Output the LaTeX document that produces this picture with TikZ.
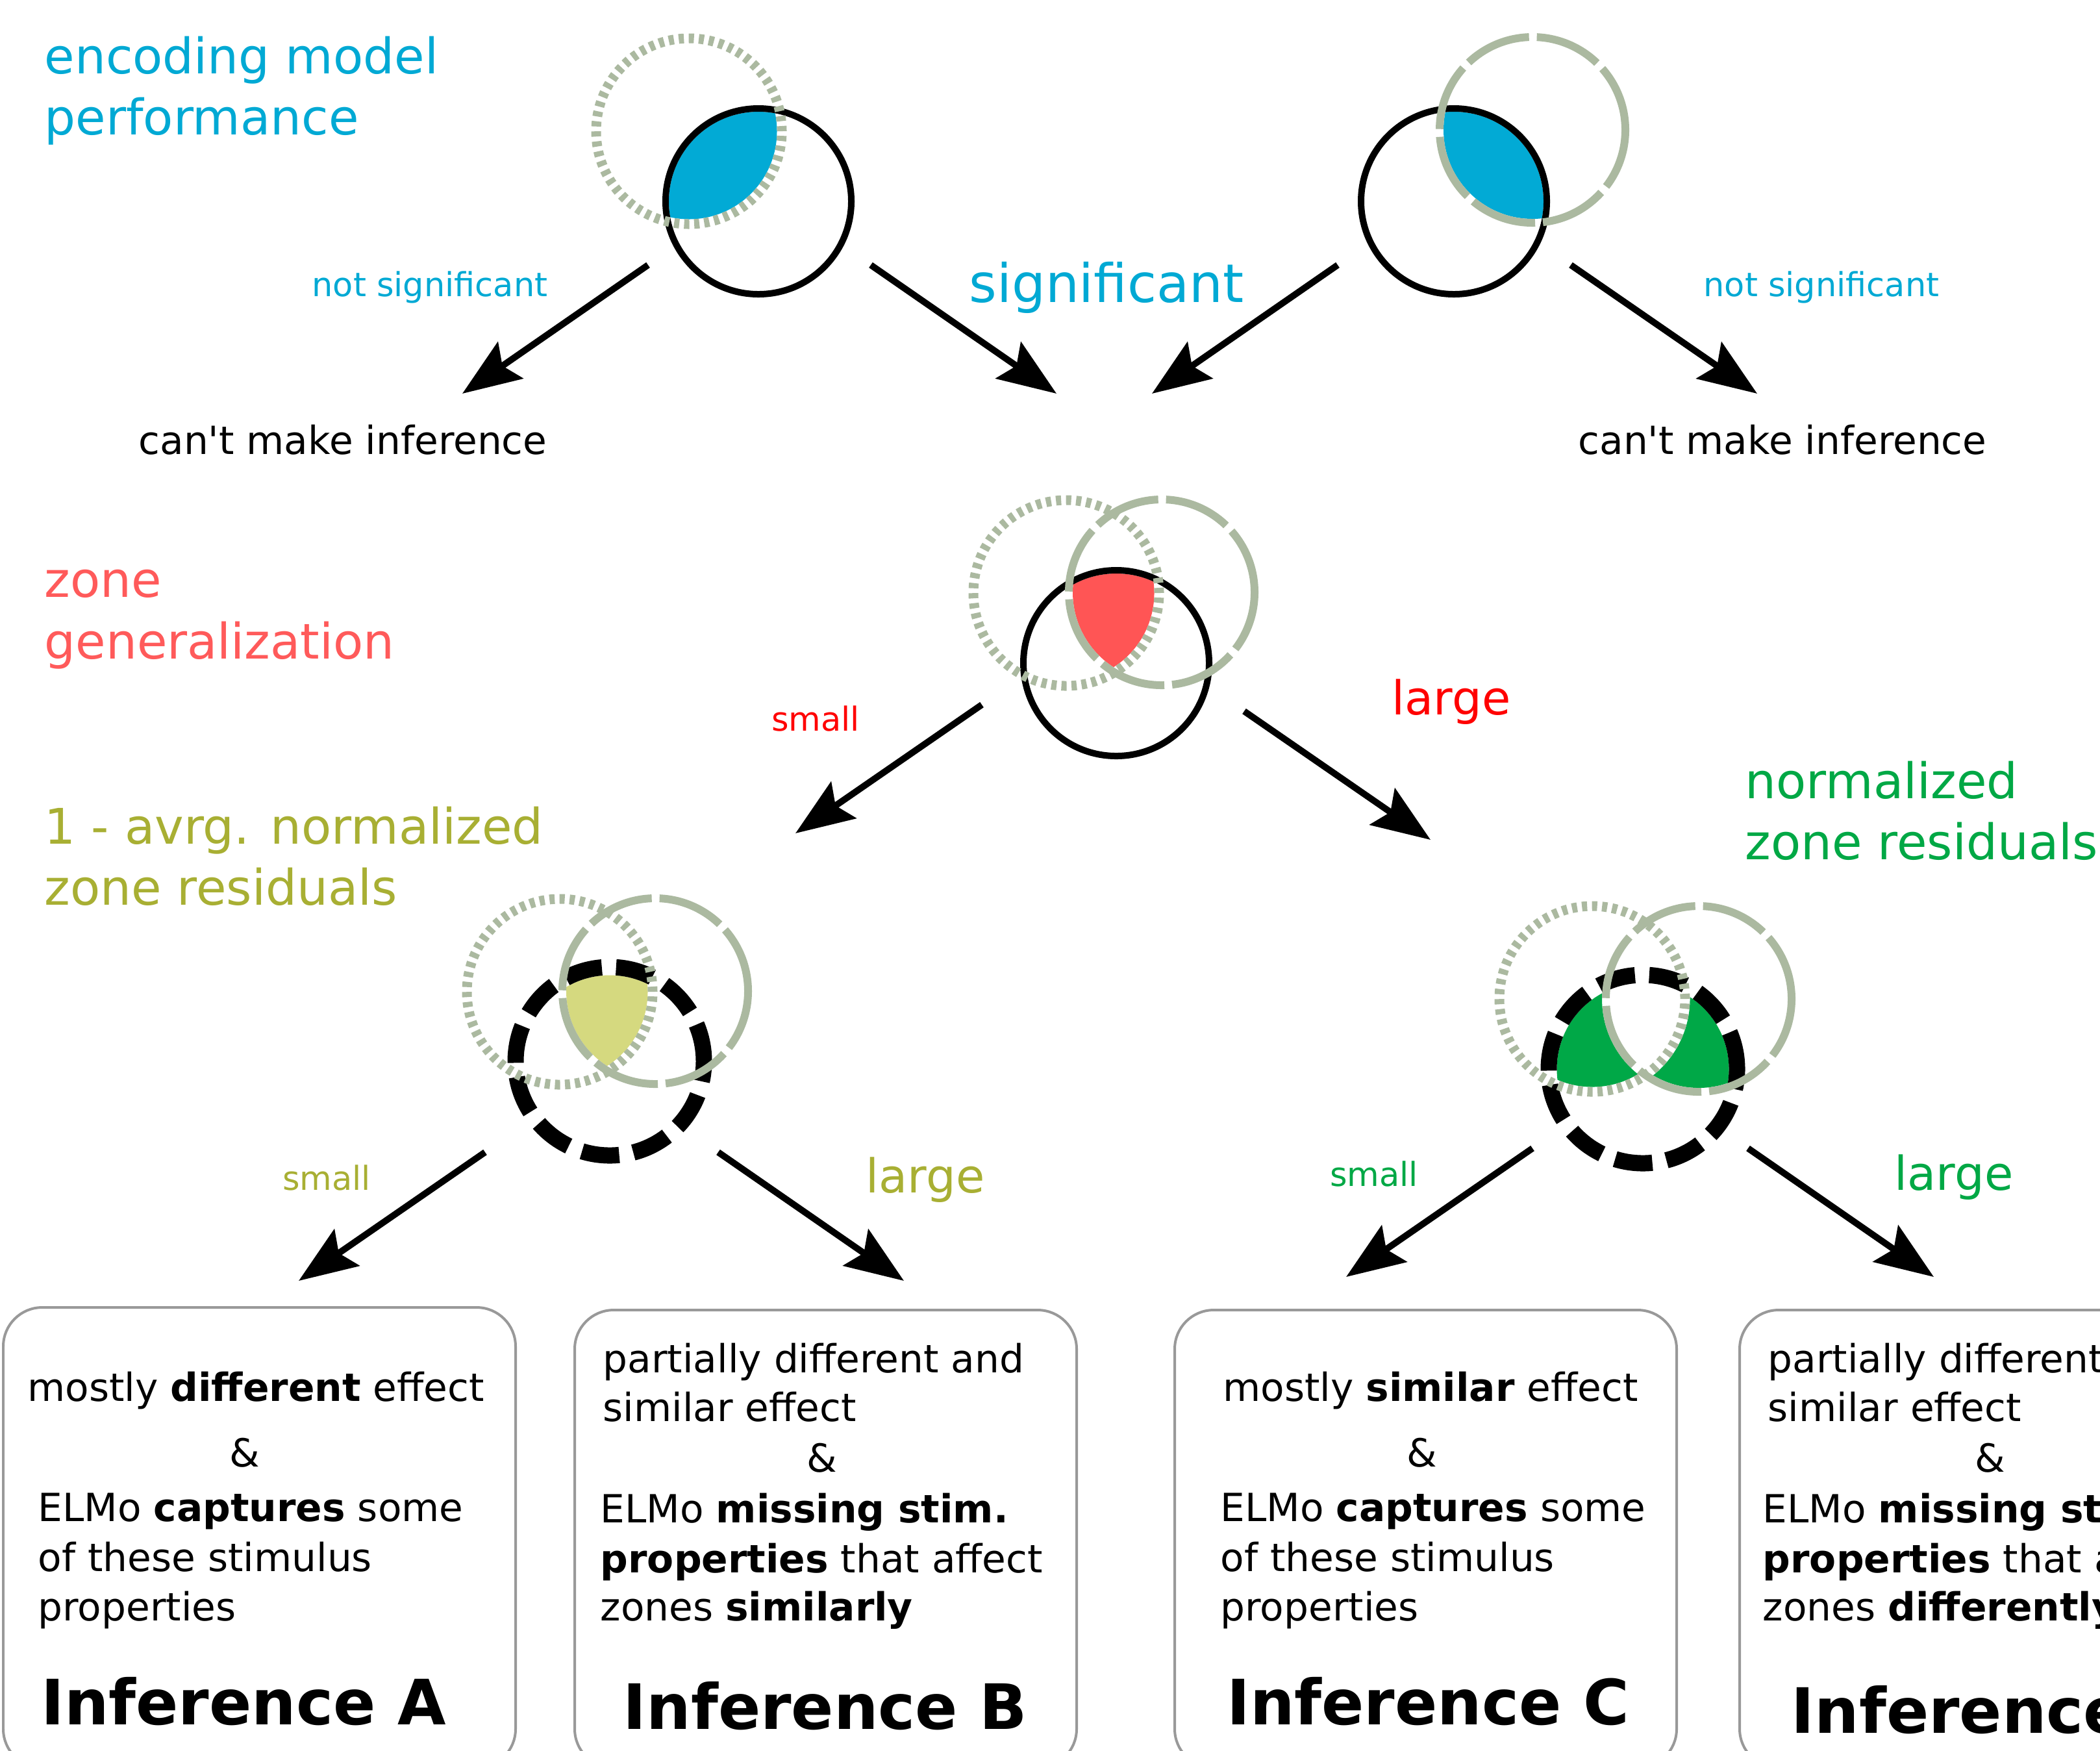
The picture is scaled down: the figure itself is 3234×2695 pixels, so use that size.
\documentclass[tikz,border=0pt]{standalone}
\usepackage{fontspec}
\setmainfont{DejaVu Sans}
\usetikzlibrary{arrows.meta}
\definecolor{cyanT}{HTML}{00A9D4}
\definecolor{cyanF}{HTML}{02AAD5}
\definecolor{salmonT}{HTML}{FF5A5A}
\definecolor{redF}{HTML}{FF5555}
\definecolor{oliveT}{HTML}{A8AF33}
\definecolor{yellowF}{HTML}{D5D97F}
\definecolor{greenT}{HTML}{00A845}
\definecolor{greenF}{HTML}{00A847}
\definecolor{greyC}{HTML}{ABB9A0}
\definecolor{boxgrey}{HTML}{999999}
\newcommand{\fsHead}{\fontsize{21.5pt}{26pt}\selectfont}
\newcommand{\fsSig}{\fontsize{23.3pt}{28pt}\selectfont}
\newcommand{\fsLrg}{\fontsize{20.5pt}{25pt}\selectfont}
\newcommand{\fsSml}{\fontsize{14.5pt}{17pt}\selectfont}
\newcommand{\fsBody}{\fontsize{17pt}{21pt}\selectfont}
\newcommand{\fsInf}{\fontsize{27.4pt}{33pt}\selectfont\bfseries}
\begin{document}
\begin{tikzpicture}[x=0.1mm,y=-0.1mm,
  blk/.style={draw=black,line width=1mm},
  blkdash/.style={draw=black,line width=2.5mm,dash pattern=on 5.8mm off 2.2mm},
  gdot/.style={draw=greyC,line width=1.5mm,dash pattern=on 0.8mm off 0.75mm},
  gdash/.style={draw=greyC,line width=1.2mm,dash pattern=on 10.3mm off 1.2mm},
  arr/.style={line width=1mm,-{Stealth[length=9mm,width=6.8mm,inset=1.5mm]}},
  txt/.style={inner sep=0pt,anchor=base west},
  ctxt/.style={inner sep=0pt,anchor=base},
  boxst/.style={draw=boxgrey,line width=0.4mm,rounded corners=6mm,inner sep=0pt,anchor=north west}
]
\useasboundingbox (0,0) rectangle (3234,2695);
\clip (0,0) rectangle (3234,2695);
\fill[white] (0,0) rectangle (3234,2695);

% ---------- circle centres ----------
\coordinate (tlK) at (1168,310);
\coordinate (tlD) at (1061,202);
\coordinate (trK) at (2239,310);
\coordinate (trS) at (2360,200);
\coordinate (mK) at (1719,1021);
\coordinate (mD) at (1642,913);
\coordinate (mS) at (1789,912);
\coordinate (blK) at (939,1634);
\coordinate (blD) at (862,1527);
\coordinate (blS) at (1009,1526);
\coordinate (brK) at (2530,1646);
\coordinate (brD) at (2452,1538);
\coordinate (brS) at (2616,1538);

% ---------- labels ----------
\node[txt,text=cyanT,font=\fsHead] (encA) at (68,113) {encoding model};
\node[txt,text=cyanT,font=\fsHead] (encB) at (68,207) {performance};
\node[ctxt,text=cyanT,font=\fsSml] (nsL) at (662,456) {not significant};
\node[ctxt,text=cyanT,font=\fsSig] (sig) at (1704,465) {significant};
\node[ctxt,text=cyanT,font=\fsSml] (nsR) at (2805,456) {not significant};
\node[ctxt,font=\fsBody] (cmiL) at (528,699) {can\textquotesingle t make inference};
\node[ctxt,font=\fsBody] (cmiR) at (2745,699) {can\textquotesingle t make inference};

\node[txt,text=salmonT,font=\fsHead] (zgA) at (68,919) {zone};
\node[txt,text=salmonT,font=\fsHead] (zgB) at (68,1014) {generalization};
\node[ctxt,text=red,font=\fsSml] (smR) at (1256,1125) {small};
\node[ctxt,text=red,font=\fsLrg] (lgR) at (2235,1100) {large};

\node[txt,text=oliveT,font=\fsHead] (avA) at (68,1299) {1 - avrg. normalized};
\node[txt,text=oliveT,font=\fsHead] (avB) at (68,1393) {zone residuals};
\node[txt,text=greenT,font=\fsHead] (nzA) at (2687,1229) {normalized};
\node[txt,text=greenT,font=\fsHead] (nzB) at (2687,1323) {zone residuals};

\node[ctxt,text=oliveT,font=\fsSml] (smO) at (503,1832) {small};
\node[ctxt,text=oliveT,font=\fsLrg] (lgO) at (1425,1836) {large};
\node[ctxt,text=greenT,font=\fsSml] (smG) at (2116,1826) {small};
\node[ctxt,text=greenT,font=\fsLrg] (lgG) at (3009,1832) {large};

% ---------- boxes ----------
\node[boxst,minimum width=78.9mm,minimum height=70.9mm] (boxA) at (3,2011) {};
\node[boxst,minimum width=77.3mm,minimum height=70.5mm] (boxB) at (883,2015) {};
\node[boxst,minimum width=77.3mm,minimum height=70.5mm] (boxC) at (1807,2015) {};
\node[boxst,minimum width=77.3mm,minimum height=70.5mm] (boxD) at (2677,2015) {};

\node[ctxt,font=\fsBody] (a1) at (394,2157) {mostly \textbf{different} effect};
\node[ctxt,font=\fsBody] (a2) at (377,2258) {\&};
\node[txt,font=\fsBody] (a3) at (58,2342) {ELMo \textbf{captures} some};
\node[txt,font=\fsBody] (a4) at (58,2419) {of these stimulus};
\node[txt,font=\fsBody] (a5) at (58,2495) {properties};
\node[ctxt,font=\fsInf] (a6) at (375,2655) {Inference A};

\node[txt,font=\fsBody] (b1) at (928,2113) {partially different and};
\node[txt,font=\fsBody] (b2) at (928,2188) {similar effect};
\node[ctxt,font=\fsBody] (b3) at (1266,2266) {\&};
\node[txt,font=\fsBody] (b4) at (924,2344) {ELMo \textbf{missing stim.}};
\node[txt,font=\fsBody] (b5) at (924,2421) {\textbf{properties} that affect};
\node[txt,font=\fsBody] (b6) at (924,2495) {zones \textbf{similarly}};
\node[ctxt,font=\fsInf] (b7) at (1271,2662) {Inference B};

\node[ctxt,font=\fsBody] (c1) at (2203,2157) {mostly \textbf{similar} effect};
\node[ctxt,font=\fsBody] (c2) at (2190,2258) {\&};
\node[txt,font=\fsBody] (c3) at (1879,2342) {ELMo \textbf{captures} some};
\node[txt,font=\fsBody] (c4) at (1879,2419) {of these stimulus};
\node[txt,font=\fsBody] (c5) at (1879,2495) {properties};
\node[ctxt,font=\fsInf] (c6) at (2199,2655) {Inference C};

\node[txt,font=\fsBody] (d1) at (2722,2113) {partially different and};
\node[txt,font=\fsBody] (d2) at (2722,2188) {similar effect};
\node[ctxt,font=\fsBody] (d3) at (3065,2266) {\&};
\node[txt,font=\fsBody] (d4) at (2714,2344) {ELMo \textbf{missing stim.}};
\node[txt,font=\fsBody] (d5) at (2714,2421) {\textbf{properties} that affect};
\node[txt,font=\fsBody] (d6) at (2714,2495) {zones \textbf{differently}};
\node[txt,font=\fsInf] (d7) at (2758,2668) {Inference D};

% ---------- arrows ----------
\coordinate (s1) at (998,408);   \coordinate (e1) at (712,606);
\coordinate (s2) at (1341,408);  \coordinate (e2) at (1627,606);
\coordinate (s3) at (2060,408);  \coordinate (e3) at (1774,606);
\coordinate (s4) at (2419,408);  \coordinate (e4) at (2706,606);
\coordinate (s5) at (1512,1085); \coordinate (e5) at (1225,1283);
\coordinate (s6) at (1916,1095); \coordinate (e6) at (2203,1293);
\coordinate (s7) at (747,1774);  \coordinate (e7) at (460,1972);
\coordinate (s8) at (1106,1774); \coordinate (e8) at (1392,1972);
\coordinate (s9) at (2360,1768); \coordinate (e9) at (2073,1966);
\coordinate (s10) at (2692,1768); \coordinate (e10) at (2978,1966);
\foreach \i in {1,...,10} {\draw[arr] (s\i) -- (e\i);}

% ---------- fills ----------
\begin{scope}
  \clip (tlK) circle[radius=13.8mm];
  \clip (tlD) circle[radius=13.55mm];
  \fill[cyanF] (0,0) rectangle (3234,2695);
\end{scope}
\begin{scope}
  \clip (trK) circle[radius=13.8mm];
  \clip (trS) circle[radius=13.7mm];
  \fill[cyanF] (0,0) rectangle (3234,2695);
\end{scope}
\begin{scope}
  \clip (mK) circle[radius=13.8mm];
  \clip (mD) circle[radius=13.55mm];
  \clip (mS) circle[radius=13.7mm];
  \fill[redF] (0,0) rectangle (3234,2695);
\end{scope}
\begin{scope}
  \clip (blK) circle[radius=13.25mm];
  \clip (blD) circle[radius=13.55mm];
  \clip (blS) circle[radius=13.7mm];
  \fill[yellowF] (0,0) rectangle (3234,2695);
\end{scope}
\begin{scope}
  \clip (brK) circle[radius=13.25mm];
  \clip (brD) circle[radius=13.55mm];
  \fill[greenF,even odd rule] (2200,1300) rectangle (2900,2000) (brS) circle[radius=14.9mm];
\end{scope}
\begin{scope}
  \clip (brK) circle[radius=13.25mm];
  \clip (brS) circle[radius=13.7mm];
  \fill[greenF,even odd rule] (2200,1300) rectangle (2900,2000) (brD) circle[radius=15.05mm];
\end{scope}

% ---------- circles ----------
\draw[blk] (tlK) circle[radius=14.3mm];
\draw[gdot] (tlD) circle[radius=14.3mm];

\draw[blk] (trK) circle[radius=14.3mm];
\draw[gdash] (trS) circle[radius=14.3mm];

\draw[blk] (mK) circle[radius=14.3mm];
\draw[gdot] (mD) circle[radius=14.3mm];
\draw[gdash] (mS) circle[radius=14.3mm];

\draw[blkdash] (blK) circle[radius=14.5mm];
\draw[gdot] (blD) circle[radius=14.3mm];
\draw[gdash] (blS) circle[radius=14.3mm];

\draw[blkdash] (brK) circle[radius=14.5mm];
\draw[gdot] (brD) circle[radius=14.3mm];
\draw[gdash] (brS) circle[radius=14.3mm];
\end{tikzpicture}
\end{document}
